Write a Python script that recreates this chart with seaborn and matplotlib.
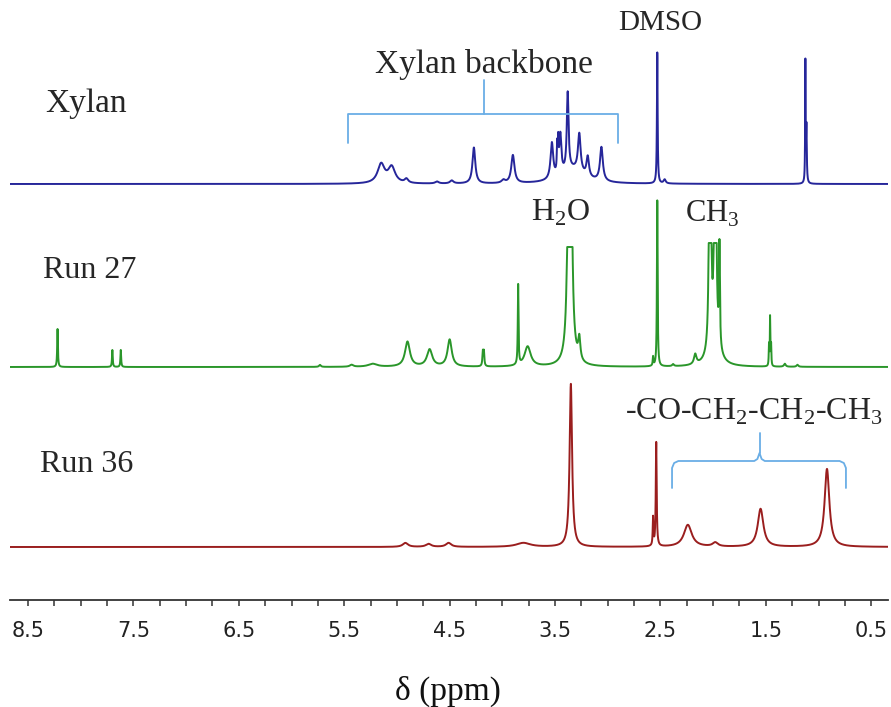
import numpy as np
import pandas as pd
import matplotlib
matplotlib.use("Agg")
import matplotlib.pyplot as plt
import seaborn as sns

# peak lists: centre (ppm), height (px above baseline), half width (ppm)
xylan_ppm = [5.15, 5.05, 4.91, 4.62, 4.48, 4.27, 3.99, 3.90, 3.53, 3.48, 3.47, 3.45, 3.38, 3.27, 3.19, 3.06, 3.33, 2.53, 2.46, 1.125, 1.115]
xylan_h = [19, 16, 4, 2, 3, 36, 3, 28, 36, 26, 28, 40, 78, 38, 20, 34, 14, 131, 4, 118, 55]
xylan_w = [0.04, 0.04, 0.02, 0.02, 0.02, 0.016, 0.02, 0.018, 0.015, 0.004, 0.004, 0.012, 0.01, 0.015, 0.014, 0.016, 0.13, 0.004, 0.012, 0.0025, 0.004]

run27_ppm = [8.22, 7.70, 7.62, 5.73, 5.43, 5.23, 4.90, 4.69, 4.50, 4.185, 4.175, 3.85, 3.76, 3.36, 3.27, 2.57, 2.53, 2.38, 2.17, 2.03, 1.98, 1.94, 1.99, 1.47, 1.46, 1.45, 1.32, 1.20]
run27_h = [38, 17, 17, 2, 2, 3, 25, 17, 27, 14, 14, 80, 20, 1400, 22, 9, 166, 2, 10, 600, 600, 100, 24, 21, 48, 21, 3, 2]
run27_w = [0.004, 0.004, 0.004, 0.01, 0.02, 0.05, 0.028, 0.03, 0.024, 0.005, 0.005, 0.004, 0.035, 0.008, 0.012, 0.004, 0.004, 0.01, 0.014, 0.006, 0.006, 0.005, 0.05, 0.003, 0.0025, 0.003, 0.01, 0.01]
# flat-topped (truncated) regions: ppm window and cut level
run27_clip_lo = [3.30, 1.96]
run27_clip_hi = [3.42, 2.07]
run27_clip_level = [120, 124]

run36_ppm = [4.92, 4.70, 4.51, 3.80, 3.35, 2.57, 2.54, 2.24, 1.98, 1.55, 0.92]
run36_h = [4, 3, 4, 4, 163, 28, 104, 22, 4, 38, 78]
run36_w = [0.03, 0.03, 0.03, 0.08, 0.014, 0.004, 0.005, 0.045, 0.03, 0.032, 0.027]

trace_names = ["Xylan", "Run 27", "Run 36"]
trace_offsets = [416, 233, 53]
trace_colors = ["#26269a", "#2a962a", "#9a1e1e"]

tick_labels = [8.5, 7.5, 6.5, 5.5, 4.5, 3.5, 2.5, 1.5, 0.5]

ppm = np.linspace(8.671, 0.341, 40000)


def spectrum(centres, heights, widths, lo=(), hi=(), level=()):
    y = np.zeros_like(ppm)
    for c, h, w in zip(centres, heights, widths):
        y += h / (1 + ((ppm - c) / w) ** 2)
    for a, b, m in zip(lo, hi, level):
        win = (ppm >= a) & (ppm <= b)
        y[win] = np.minimum(y[win], m)
    return y


traces = [
    spectrum(xylan_ppm, xylan_h, xylan_w),
    spectrum(run27_ppm, run27_h, run27_w, run27_clip_lo, run27_clip_hi, run27_clip_level),
    spectrum(run36_ppm, run36_h, run36_w),
]

sns.set_theme(style="white")
plt.rcParams["mathtext.fontset"] = "custom"
plt.rcParams["mathtext.rm"] = "Liberation Serif"
serif = ["Liberation Serif", "DejaVu Serif"]

fig = plt.figure(figsize=(8.91, 7.07), dpi=100)
ax = fig.add_axes([10 / 891, 107 / 707, 878 / 891, 600 / 707])

for name, off, col, y in zip(trace_names, trace_offsets, trace_colors, traces):
    df = pd.DataFrame({"ppm": ppm, "I": y + off})
    sns.lineplot(data=df, x="ppm", y="I", color=col, linewidth=1.4, ax=ax, sort=False, estimator=None)

ax.set_xlim(8.671, 0.341)
ax.set_ylim(0, 600)

for s in ["top", "left", "right"]:
    ax.spines[s].set_visible(False)
ax.spines["bottom"].set_color("#333333")
ax.spines["bottom"].set_linewidth(1.3)
ax.set_yticks([])
ax.set_ylabel("")
ax.set_xticks(tick_labels)
ax.set_xticklabels([f"{t:.1f}" for t in tick_labels], fontsize=15, color="#222222")
ax.set_xticks(np.arange(0.5, 8.6, 0.25), minor=True)
ax.tick_params(axis="x", which="both", direction="out", length=4, width=1.1, color="#333333", bottom=True)
ax.tick_params(axis="x", which="major", pad=11)
ax.set_xlabel("δ (ppm)", fontsize=24, family=serif, color="#111111")
ax.xaxis.set_label_coords(0.499, -0.127)

# sample names
ax.text(8.34, 496, "Xylan", fontsize=24, family=serif, ha="left", va="center")
ax.text(8.36, 330, "Run 27", fontsize=23, family=serif, ha="left", va="center")
ax.text(8.39, 135, "Run 36", fontsize=23, family=serif, ha="left", va="center")

# peak assignments
ax.text(2.50, 577, "DMSO", fontsize=21, family=serif, ha="center", va="center")
ax.text(4.17, 536, "Xylan backbone", fontsize=24, family=serif, ha="center", va="center")
ax.text(3.45, 387, "H$_2$O", fontsize=23, family=serif, ha="center", va="center")
ax.text(2.01, 386, "CH$_3$", fontsize=22, family=serif, ha="center", va="center")
ax.text(1.61, 188, "-CO-CH$_2$-CH$_2$-CH$_3$", fontsize=23, family=serif, ha="center", va="center")

bracket_col = "#6aaee6"
# xylan backbone bracket
xb_left, xb_right, xb_mid = 5.46, 2.90, 4.17
ax.plot([xb_left, xb_left, xb_right, xb_right], [457, 486, 486, 457], color=bracket_col, lw=1.3)
ax.plot([xb_mid, xb_mid], [486, 520], color=bracket_col, lw=1.3)

# butyryl curly bracket
cb_left, cb_right, cb_mid = 2.39, 0.74, 1.56
cb_x = [cb_left, cb_left, cb_left - 0.02, cb_left - 0.06, cb_mid + 0.05, cb_mid + 0.02, cb_mid,
        cb_mid - 0.02, cb_mid - 0.05, cb_right + 0.06, cb_right + 0.02, cb_right, cb_right]
cb_y = [112, 132, 137, 139, 139, 141, 147, 141, 139, 139, 137, 132, 112]
ax.plot(cb_x, cb_y, color=bracket_col, lw=1.3)
ax.plot([cb_mid, cb_mid], [147, 167], color=bracket_col, lw=1.3)

fig.savefig("out.png", dpi=100)
